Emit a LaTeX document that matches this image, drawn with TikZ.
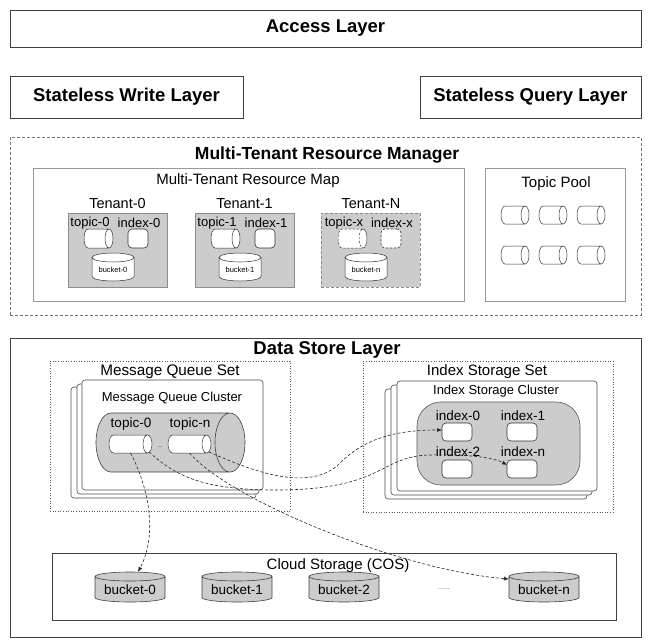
\documentclass[tikz,border=0pt]{standalone}
\usepackage{fontspec}
\setmainfont{Liberation Sans}
\usetikzlibrary{calc,arrows.meta,fit}
\newcommand\fsz[1]{\fontsize{#1}{#1}\selectfont}
% horizontal cylinder around node #1, end radius #2, style #3
\newcommand\hcyl[3]{%
 \path[#3] let \p1=(#1.north west),\p2=(#1.south east),\n1={(\y1-\y2)/2} in
  (\x2-#2pt,\y1) -- (\x1+#2pt,\y1) arc[start angle=90,end angle=270,x radius=#2pt,y radius=\n1]
  -- (\x2-#2pt,\y2) arc[start angle=-90,end angle=90,x radius=#2pt,y radius=\n1] -- cycle
  (\x2-#2pt,{(\y1+\y2)/2}) ellipse[x radius=#2pt,y radius=\n1];}
% vertical cylinder around node #1, end radius #2, style #3
\newcommand\vcyl[3]{%
 \path[#3] let \p1=(#1.north west),\p2=(#1.south east),\n1={(\x2-\x1)/2} in
  (\x1,\y1-#2pt) -- (\x1,\y2+#2pt) arc[start angle=180,end angle=360,x radius=\n1,y radius=#2pt]
  -- (\x2,\y1-#2pt) arc[start angle=0,end angle=180,x radius=\n1,y radius=#2pt] -- cycle
  ({(\x1+\x2)/2},\y1-#2pt) ellipse[x radius=\n1,y radius=#2pt];}
\begin{document}
\begin{tikzpicture}[x=1pt,y=-1pt,
  ph/.style={rectangle,inner sep=0pt,outer sep=0pt},
  lay/.style={ph,draw=black!75,line width=0.8pt},
  txt/.style={inner sep=0pt,outer sep=0pt,text=black},
  big/.style={txt,font=\fsz{18.5}\bfseries},
  tenant/.style={ph,fill=black!20,draw=black!45,line width=0.6pt},
  card/.style={ph,fill=white,draw=black!70,line width=0.6pt,rounded corners=3pt},
  dotbox/.style={ph,draw=black!65,line width=0.6pt,dotted},
  idx/.style={ph,fill=white,draw=black!80,line width=0.6pt,rounded corners=4pt},
  cylw/.style={fill=white,draw=black!80,line width=0.5pt},
  cylg/.style={fill=black!20,draw=black!75,line width=0.6pt},
  conn/.style={draw=black!85,line width=0.6pt,dash pattern=on 3pt off 2pt,-{Latex[length=5pt,width=4pt]}}]
\useasboundingbox[fill=white] (0,0) rectangle (652,640);

% top layers
\node[lay, fit={(10,10) (641,47)}] (access) {};
\node[big] (accessT) at (access.center) {Access Layer};
\node[lay, fit={(10,76) (243,118)}] (write) {};
\node[big] (writeT) at (write.center) {Stateless Write Layer};
\node[lay, fit={(420,76) (641,118)}] (query) {};
\node[big] (queryT) at (query.center) {Stateless Query Layer};

% multi-tenant resource manager
\node[ph, draw=black!55, line width=0.7pt, dash pattern=on 3pt off 2pt, fit={(10,137) (641,315)}] (mtrm) {};
\node[txt, font=\fsz{17.5}\bfseries] (mtrmT) at (327,155) {Multi-Tenant Resource Manager};
\node[ph, draw=black!40, line width=0.6pt, fit={(33,168) (464,301)}] (map) {};
\node[txt, font=\fsz{15}] (mapT) at (248,181) {Multi-Tenant Resource Map};
\node[ph, draw=black!40, line width=0.6pt, fit={(485,168) (625,301)}] (pool) {};
\node[txt, font=\fsz{15}] (poolT) at (556,184) {Topic Pool};
\foreach \nm/\cx/\cy in {p1/515/215,p2/553/215,p3/591/215,p4/515/255,p5/553/255,p6/591/255}{
  \node[ph, minimum width=28pt, minimum height=18pt] (\nm) at (\cx,\cy) {};
  \hcyl{\nm}{4}{cylw}
}

% tenant 0  (L = 68)
\node[tenant, fit={(68,213) (167,287)}] (ten0) {};
\node[txt, font=\fsz{14.5}] (ten0T) at (117.5,204) {Tenant-0};
\node[txt, font=\fsz{13}] (tt0T) at (90,223) {topic-0};
\node[txt, font=\fsz{13}] (ti0T) at (139,223) {index-0};
\node[ph, minimum width=29pt, minimum height=19pt] (tt0) at (98.5,238.5) {};
\hcyl{tt0}{4}{cylw}
\node[idx, minimum width=20pt, minimum height=19pt] (ti0) at (138,238.5) {};
\node[ph, minimum width=42pt, minimum height=28pt] (tb0) at (113,267) {};
\vcyl{tb0}{4.5}{cylw}
\node[txt, font=\fsz{7.5}] (tb0T) at (113,270) {bucket-0};

% tenant 1  (L = 195)
\node[tenant, fit={(195,213) (294,287)}] (ten1) {};
\node[txt, font=\fsz{14.5}] (ten1T) at (244.5,204) {Tenant-1};
\node[txt, font=\fsz{13}] (tt1T) at (217,223) {topic-1};
\node[txt, font=\fsz{13}] (ti1T) at (266,223) {index-1};
\node[ph, minimum width=29pt, minimum height=19pt] (tt1) at (225.5,238.5) {};
\hcyl{tt1}{4}{cylw}
\node[idx, minimum width=20pt, minimum height=19pt] (ti1) at (265,238.5) {};
\node[ph, minimum width=42pt, minimum height=28pt] (tb1) at (240,267) {};
\vcyl{tb1}{4.5}{cylw}
\node[txt, font=\fsz{7.5}] (tb1T) at (240,270) {bucket-1};

% tenant N  (L = 321)
\node[tenant, dash pattern=on 3pt off 2pt, fit={(321,213) (420,287)}] (tenN) {};
\node[txt, font=\fsz{14.5}] (tenNT) at (371,204) {Tenant-N};
\node[txt, font=\fsz{13}] (ttxT) at (344,223) {topic-x};
\node[txt, font=\fsz{13}] (tixT) at (392,223) {index-x};
\node[ph, minimum width=29pt, minimum height=19pt] (ttx) at (352.5,238.5) {};
\hcyl{ttx}{4}{cylw,dash pattern=on 2.5pt off 1.5pt}
\node[idx, dash pattern=on 2.5pt off 1.5pt, minimum width=20pt, minimum height=19pt] (tix) at (391,238.5) {};
\node[ph, minimum width=42pt, minimum height=28pt] (tbn) at (366,267) {};
\vcyl{tbn}{4.5}{cylw}
\node[txt, font=\fsz{7.5}] (tbnT) at (366,270) {bucket-n};

% data store layer
\node[lay, fit={(10,338) (641,637)}] (ds) {};
\node[big] (dsT) at (327,350) {Data Store Layer};

% message queue set
\node[dotbox, fit={(50,361) (290,511)}] (mqs) {};
\node[txt, font=\fsz{15.3}] (mqsT) at (170,372) {Message Queue Set};
\node[card, fit={(71,387) (256,498)}] (mqc3) {};
\node[card, fit={(77,384) (259,494)}] (mqc2) {};
\node[card, fit={(82,380) (263,490)}] (mqc) {};
\node[txt, font=\fsz{13}] (mqcT) at (172,398) {Message Queue Cluster};
\node[ph, minimum width=149pt, minimum height=59pt] (mq) at (170.5,442.5) {};
\hcyl{mq}{15}{cylg}
\node[txt, font=\fsz{13.5}] (t0T) at (131,424) {topic-0};
\node[txt, font=\fsz{13.5}] (tnT) at (190,424) {topic-n};
\node[ph, minimum width=43pt, minimum height=18pt] (t0) at (130.5,444) {};
\hcyl{t0}{4.5}{cylw}
\node[ph, minimum width=43pt, minimum height=18pt] (tn) at (189.5,444) {};
\hcyl{tn}{4.5}{cylw}
\node[txt, font=\fsz{7}, text=black!70] (mqdots) at (160,447) {...};

% index storage set
\node[dotbox, fit={(363,361) (613,512)}] (iss) {};
\node[txt, font=\fsz{15}] (issT) at (487,372) {Index Storage Set};
\node[card, fit={(385,389) (587,499)}] (isc3) {};
\node[card, fit={(391,385) (592,495)}] (isc2) {};
\node[card, fit={(397,381) (597,491)}] (isc) {};
\node[txt, font=\fsz{13}] (iscT) at (496,391) {Index Storage Cluster};
\node[ph, fill=black!20, draw=black!65, line width=0.6pt, rounded corners=24pt, fit={(417,402) (580,485)}] (blob) {};
\node[txt, font=\fsz{13.5}] (i0T) at (458,416) {index-0};
\node[txt, font=\fsz{13.5}] (i1T) at (523,416) {index-1};
\node[txt, font=\fsz{13.5}] (i2T) at (458,452) {index-2};
\node[txt, font=\fsz{13.5}] (inT) at (523,452) {index-n};
\node[idx, minimum width=30pt, minimum height=18pt] (i0) at (457,432) {};
\node[idx, minimum width=30pt, minimum height=18pt] (i1) at (522,432) {};
\node[idx, minimum width=30pt, minimum height=18pt] (i2) at (457,469) {};
\node[idx, minimum width=30pt, minimum height=18pt] (in) at (522,469) {};

% cloud storage
\node[lay, fit={(52,553) (616,620)}] (cos) {};
\node[txt, font=\fsz{15}] (cosT) at (338,566) {Cloud Storage (COS)};
\foreach \nm/\cx/\t in {b0/130/bucket-0,b1/237/bucket-1,b2/344/bucket-2,bn/544/bucket-n}{
  \node[ph, minimum width=70pt, minimum height=30pt] (\nm) at (\cx,587) {};
  \vcyl{\nm}{4.5}{cylg}
  \node[txt, font=\fsz{13.5}] (\nm T) at (\cx,590) {\t};
}
\node[txt, font=\fsz{7}, text=black!60] (cosdots) at (444,589) {......};

% connectors
\draw[conn] (t0.south) .. controls (145,480) and (160,530) .. ($(b0.north)+(8,0)$);
\draw[conn] ($(t0.south east)+(-3,-1)$) .. controls (175,475) and (200,489) .. (270,490)
   .. controls (385,491) and (378,456) .. (430,455)
   .. controls (470,454) and (495,458) .. ($(in.west)+(0,-4)$);
\draw[conn] ($(tn.south east)+(-2,-1)$) .. controls (250,470) and (305,492) .. (337,466)
   .. controls (358,444) and (385,430) .. ($(i0.west)+(0,-2)$);
\draw[conn] (tn.south) .. controls (230,500) and (400,570) .. ($(bn.west)+(0,-8)$);
\end{tikzpicture}
\end{document}
